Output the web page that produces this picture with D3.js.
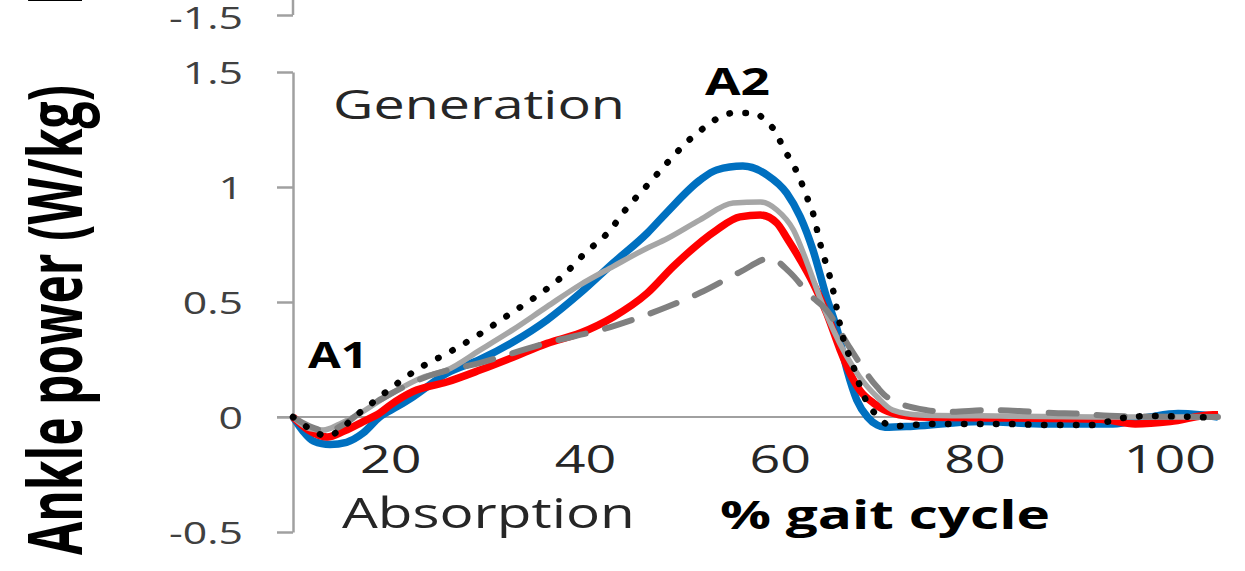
<!DOCTYPE html>
<html>
<head>
<meta charset="utf-8">
<script src="https://cdn.jsdelivr.net/npm/d3@7"></script>
<style>
  html, body { margin: 0; padding: 0; background: #fff; }
  svg { display: block; font-family: "Open Sans", sans-serif; }
</style>
</head>
<body>
<div id="app"></div>
<script>
// ankle power over the gait cycle
const xTicks = [20, 40, 60, 80, 100];
const yTicks = [-0.5, 0, 0.5, 1, 1.5];
const upperTicks = [-1.5];

const blueLine = [[10,0],[11,-0.06],[12.1,-0.105],[13.8,-0.12],[15.5,-0.11],[17.2,-0.07],[18.9,0],[20.7,0.045],
  [22.3,0.087],[25.8,0.19],[29.2,0.25],[32.6,0.326],[36.1,0.422],[39.5,0.539],[42.9,0.67],[46.4,0.8],[48.4,0.89],
  [51.8,1.03],[53.5,1.074],[56.2,1.091],[58.7,1.052],[60.7,0.974],[62.1,0.87],[63.4,0.726],[64.8,0.52],[65.9,0.378],
  [66.9,0.204],[67.9,0.074],[69,0],[70,-0.035],[70.8,-0.045],[73.7,-0.04],[80.6,-0.02],[87.4,-0.03],[94.2,-0.03],
  [98,0],[100.9,0.015],[103.1,0.01],[105,0]];

const redLine = [[10,0],[11.7,-0.06],[13.5,-0.087],[15.3,-0.06],[17.2,-0.02],[18.9,0.017],[20,0.052],[22.3,0.11],
  [25.8,0.152],[29.2,0.204],[32.6,0.26],[36.1,0.32],[39.5,0.365],[42.9,0.435],[46.4,0.539],[49,0.652],[50.1,0.696],
  [53.5,0.813],[55.9,0.87],[58,0.878],[59.7,0.843],[60.7,0.78],[62.1,0.683],[63.4,0.583],[64.8,0.452],[66.2,0.291],
  [67.2,0.191],[68.2,0.117],[69.6,0.061],[71.6,0.017],[74.4,0],[82.6,-0.004],[92.9,-0.01],[96.5,-0.03],[100.1,-0.02],
  [104.5,0.01],[105,0.01]];

const greyLine = [[10,0],[11.7,-0.05],[13.1,-0.057],[14.8,-0.03],[16.6,0.009],[20,0.1],[23.4,0.174],[25.8,0.204],
  [29.2,0.291],[32.6,0.38],[36.1,0.48],[39.5,0.575],[42.9,0.655],[46.4,0.735],[48.4,0.775],[51.8,0.857],[55.2,0.93],
  [58,0.935],[59.7,0.9],[61.4,0.813],[62.8,0.67],[64.1,0.52],[65.5,0.378],[66.9,0.261],[68.2,0.174],[70,0.087],
  [71.6,0.03],[74.4,0.009],[82.6,0.004],[92.9,0],[105,0]];

const dashedLine = [[10,0],[11.7,-0.04],[13.5,-0.06],[15.3,-0.03],[17.2,0.03],[20,0.1],[23.4,0.17],[29.5,0.239],
  [36.1,0.322],[42.6,0.391],[48.4,0.478],[51.8,0.54],[55.9,0.63],[59,0.69],[61,0.63],[63.1,0.53],[64.8,0.465],
  [67.2,0.3],[70,0.13],[71,0.087],[75.1,0.03],[77.2,0.022],[81.6,0.03],[85,0.025],[88.1,0.017],[90.5,0.015],
  [93.9,0.005],[105,0]];

const dottedLine = [[10,0],[11.7,-0.05],[13.5,-0.083],[15,-0.05],[16.3,0],[17.6,0.043],[20.2,0.13],[23,0.213],
  [26.1,0.283],[29.2,0.361],[32.1,0.443],[34.9,0.522],[37.6,0.609],[39.9,0.709],[42.4,0.804],[44.3,0.909],
  [46.5,1.013],[48.6,1.113],[50.8,1.209],[52.2,1.257],[53.5,1.296],[55.3,1.322],[57.2,1.322],[58.8,1.278],
  [59.7,1.23],[60.3,1.174],[61.1,1.117],[61.8,1.061],[62.9,0.943],[63.4,0.887],[64.1,0.761],[65.3,0.583],
  [66.5,0.343],[67.5,0.226],[68.5,0.104],[70.1,0],[71.6,-0.04],[75.6,-0.03],[82.6,-0.03],[87.7,-0.035],
  [91.9,-0.035],[95.1,-0.005],[98,0.004],[101.1,0.002],[105,-0.004]];

const width = 1245;
const height = 571;
const SX = 1.38; // picture is stretched sideways

const svg = d3.select('#app')
  .append('svg')
  .attr('width', width)
  .attr('height', height);

const x = d3.scaleLinear().domain([10, 105]).range([293, 1218]);
const y = d3.scaleLinear().domain([-0.5, 1.5]).range([532, 72]);
// the panel above, only its bottom edge is visible
const yUpper = d3.scaleLinear().domain([-1.5, -1.4]).range([15, -8]);

const fmt = d => String(d); // plain hyphen, like the original

// text helper, squeezes or stretches to the width seen in the picture
function label(str, px, py, size, weight, w, fill) {
  const t = svg.append('text')
    .attr('x', px)
    .attr('y', py)
    .attr('font-size', size)
    .attr('font-weight', weight)
    .attr('fill', fill)
    .text(str);
  const k = w / t.node().getComputedTextLength();
  t.attr('transform', `translate(${px},${py}) scale(${k},1) translate(${-px},${-py})`);
  return t;
}

// axes
const axisColor = '#a0a0a0';

const yAxis = d3.axisLeft(y).tickValues(yTicks).tickSize(16).tickSizeOuter(0).tickFormat(fmt);
const gy = svg.append('g').attr('transform', `translate(${x(10)},0)`).call(yAxis);
gy.select('.domain').attr('stroke', axisColor).attr('stroke-width', 2.5);
gy.selectAll('.tick line').attr('stroke', axisColor).attr('stroke-width', 2.5);
gy.selectAll('.tick text')
  .attr('font-family', '"Open Sans", sans-serif')
  .attr('font-size', 31)
  .attr('fill', '#404040')
  .attr('x', -50 / SX)
  .attr('dy', '0.36em')
  .attr('transform', `scale(${SX},1)`);

const yAxisUp = d3.axisLeft(yUpper).tickValues(upperTicks).tickSize(16).tickSizeOuter(0).tickFormat(fmt);
const gu = svg.append('g').attr('transform', `translate(${x(10)},0)`).call(yAxisUp);
gu.select('.domain').remove();
gu.append('line').attr('y1', 0).attr('y2', yUpper(-1.5)).attr('stroke', axisColor).attr('stroke-width', 2.5);
gu.selectAll('.tick line').attr('stroke', axisColor).attr('stroke-width', 2.5);
gu.selectAll('.tick text')
  .attr('font-family', '"Open Sans", sans-serif')
  .attr('font-size', 31)
  .attr('fill', '#404040')
  .attr('x', -50 / SX)
  .attr('dy', '0.42em')
  .attr('transform', `scale(${SX},1)`);

const xAxis = d3.axisBottom(x).tickValues(xTicks).tickSize(0).tickSizeOuter(0).tickFormat(fmt);
const gx = svg.append('g').attr('transform', `translate(0,${y(0)})`).call(xAxis);
gx.select('.domain').remove();
gx.append('line').attr('x1', x(10) - 16).attr('x2', x(105)).attr('stroke', axisColor).attr('stroke-width', 2);
gx.selectAll('.tick text')
  .attr('font-family', '"Open Sans", sans-serif')
  .attr('font-size', 39)
  .attr('fill', '#262626')
  .attr('y', 56)
  .attr('dy', 0)
  .attr('transform', `scale(${SX},1)`);

// lines
const line = d3.line()
  .x(d => x(d[0]))
  .y(d => y(d[1]))
  .curve(d3.curveMonotoneX);

const series = [
  { data: blueLine, color: '#0070c0', w: 7.5, dash: null },
  { data: redLine, color: '#ff0000', w: 7.5, dash: null },
  { data: greyLine, color: '#a6a6a6', w: 5.5, dash: null },
  { data: dashedLine, color: '#808080', w: 6, dash: '28,20' },
  { data: dottedLine, color: '#000000', w: 6.5, dash: '0.5,15.5' }
];

svg.append('g')
  .selectAll('path')
  .data(series)
  .join('path')
  .attr('d', d => line(d.data))
  .attr('fill', 'none')
  .attr('stroke', d => d.color)
  .attr('stroke-width', d => d.w)
  .attr('stroke-dasharray', d => d.dash)
  .attr('stroke-linecap', d => d.dash ? 'round' : 'butt')
  .attr('stroke-linejoin', 'round');

// annotations
label('Generation', 333, 119, 41, 400, 292, '#262626');
label('Absorption', 342, 528, 42, 400, 293, '#262626');
label('A1', 308, 368, 36, 700, 60, '#000');
label('A2', 705, 95, 37, 700, 65, '#000');
label('% gait cycle', 720, 529, 39, 700, 330, '#000');

// y title, rotated
function yTitle(str, cx, cy, anchor, len) {
  const t = svg.append('text')
    .attr('font-size', 52)
    .attr('font-weight', 700)
    .attr('fill', '#000')
    .attr('text-anchor', anchor)
    .text(str);
  const k = len ? len / t.node().getComputedTextLength() : 0.87;
  t.attr('transform', `translate(${cx},${cy}) rotate(-90) scale(${k},1.45)`);
}
yTitle('Ankle power (W/kg)', 82, 320, 'middle', 470);
yTitle('Knee power (W/kg)', 82, 5, 'start', null);
</script>
</body>
</html>
